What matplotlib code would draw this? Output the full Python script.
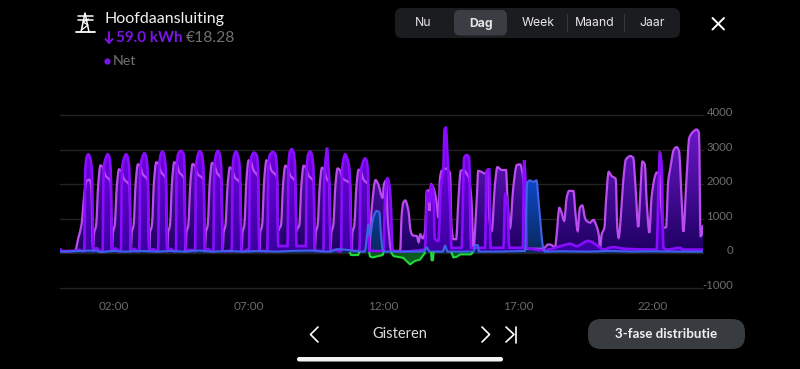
import numpy as np
from matplotlib import pyplot as plt
from matplotlib.colors import LinearSegmentedColormap
from matplotlib.patches import FancyBboxPatch, PathPatch
from matplotlib.path import Path
from matplotlib.transforms import ScaledTranslation

plt.rcParams['font.family'] = ['Lato', 'DejaVu Sans']

tick_hours = [2, 7, 12, 17, 22]
tick_labels = ['02:00', '07:00', '12:00', '17:00', '22:00']
power_ticks = [-1000, 0, 1000, 2000, 3000, 4000]
tabs = ['Nu', 'Dag', 'Week', 'Maand', 'Jaar']

# bright purple phase
dark_hours = [
    0.00, 0.10, 0.50, 0.70, 0.85,
    0.90, 0.94, 0.99, 1.05, 1.11, 1.18, 1.24, 1.35, 1.50,
    1.58, 1.62, 1.71, 1.77, 1.83, 1.88, 1.93, 2.05, 2.20,
    2.26, 2.30, 2.39, 2.45, 2.51, 2.57, 2.63, 2.75, 2.88,
    2.94, 2.98, 3.07, 3.13, 3.19, 3.25, 3.31, 3.45, 3.58,
    3.64, 3.68, 3.74, 3.80, 3.86, 3.92, 3.98, 4.10, 4.24,
    4.30, 4.33, 4.39, 4.48, 4.58, 4.62, 4.66, 4.80, 4.95,
    5.01, 5.05, 5.13, 5.19, 5.26, 5.32, 5.38, 5.50, 5.63,
    5.69, 5.73, 5.80, 5.86, 5.92, 5.98, 6.04, 6.15, 6.31,
    6.37, 6.41, 6.47, 6.53, 6.59, 6.67, 6.74, 6.85, 6.95,
    7.01, 7.05, 7.12, 7.20, 7.30, 7.35, 7.40, 7.55, 7.63,
    7.69, 7.73, 7.79, 7.90, 8.00, 8.05, 8.10, 8.14, 8.41,
    8.44, 8.48, 8.53, 8.60, 8.66, 8.72, 8.78, 8.82, 9.09,
    9.12, 9.16, 9.21, 9.28, 9.34, 9.40, 9.46, 9.60, 9.71,
    9.77, 9.81, 9.89, 9.91, 9.95, 10.00, 10.04, 10.20, 10.37,
    10.43, 10.47, 10.54, 10.58, 10.64, 10.74, 10.82, 10.95, 11.05,
    11.11, 11.16, 11.26, 11.32, 11.38, 11.43, 11.48,
    12.00, 12.06, 12.15, 12.25, 12.30, 12.34, 12.60, 13.54,
    13.63, 13.71, 13.78, 13.85, 13.91, 14.04, 14.14, 14.22, 14.27, 14.32, 14.37, 14.47, 14.53,
    14.90, 15.00, 15.09, 15.18, 15.25, 15.77, 15.83, 15.93, 15.98,
    16.45, 16.52, 16.60, 16.67, 17.17, 17.22, 17.28, 17.32,
    17.93, 18.18, 18.80, 18.92, 19.17, 19.54, 19.60, 20.04, 20.16, 20.50, 21.00, 22.14,
    22.21, 22.26, 22.33, 22.39, 22.51, 23.00, 23.13, 23.86,
]
dark_watts = [
    110, 50, 60, 90, 50,
    55, 2430, 2780, 2860, 2780, 2430, 60, 140, 60,
    55, 2430, 2780, 2860, 2780, 2430, 60, 130, 50,
    55, 2430, 2780, 2860, 2780, 2430, 60, 120, 50,
    55, 2450, 2810, 2890, 2810, 2450, 60, 110, 60,
    55, 2500, 2860, 2940, 2860, 2500, 60, 120, 50,
    55, 2520, 2880, 2960, 2880, 2520, 60, 90, 70,
    55, 2510, 2870, 2950, 2870, 2510, 60, 120, 50,
    55, 2520, 2880, 2960, 2880, 2520, 60, 50, 60,
    55, 2500, 2860, 2940, 2860, 2500, 60, 50, 90,
    55, 2470, 2830, 2910, 2830, 2470, 60, 60, 50,
    55, 2490, 2850, 2930, 2850, 2490, 200, 200, 200,
    200, 2560, 2930, 3010, 2930, 2560, 200, 200, 200,
    200, 2500, 2860, 2940, 2860, 2500, 60, 60, 50,
    55, 2200, 2950, 3050, 2600, 2000, 60, 90, 50,
    55, 2430, 2780, 2860, 2780, 2430, 60, 60, 50,
    55, 2330, 2670, 2740, 2670, 2330, 60,
    60, 1500, 2165, 1800, 900, 80, 40, 100,
    1750, 1500, 1970, 1800, 400, 350, 2000, 2380, 3580, 3630, 2950, 1500, 150,
    150, 2770, 2840, 2770, 150, 150, 2380, 2425, 150,
    150, 1700, 1500, 150, 150, 2690, 2000, 150,
    80, 110, 250, 270, 200, 340, 350, 160, 100, 170, 120, 100,
    1900, 2910, 2480, 150, 100, 150, 100, 100,
]

# lighter purple phase
light_hours = [
    0.00, 0.56, 0.68, 0.80, 0.90, 0.99, 1.09, 1.16, 1.22,
    1.27, 1.34, 1.42, 1.50, 1.58, 1.68, 1.88, 1.93,
    1.96, 2.03, 2.11, 2.19, 2.27, 2.37, 2.58, 2.63,
    2.66, 2.73, 2.81, 2.89, 2.97, 3.07, 3.26, 3.31,
    3.34, 3.41, 3.49, 3.57, 3.65, 3.75, 3.93, 3.98,
    4.01, 4.08, 4.16, 4.24, 4.32, 4.42, 4.61, 4.66,
    4.69, 4.76, 4.84, 4.92, 5.00, 5.10, 5.33, 5.38,
    5.41, 5.48, 5.56, 5.64, 5.72, 5.82, 5.99, 6.04,
    6.07, 6.14, 6.22, 6.30, 6.38, 6.48, 6.69, 6.74,
    6.77, 6.84, 6.92, 7.00, 7.08, 7.18, 7.35, 7.40,
    7.43, 7.50, 7.58, 7.66, 7.74, 7.84, 8.05, 8.10,
    8.13, 8.20, 8.28, 8.36, 8.44, 8.54, 8.73, 8.78,
    8.81, 8.88, 8.96, 9.04, 9.12, 9.22, 9.41, 9.46,
    9.49, 9.56, 9.64, 9.72, 9.80, 9.88, 9.99, 10.04,
    10.07, 10.14, 10.22, 10.30, 10.38, 10.48, 10.77, 10.82,
    10.85, 10.92, 11.00, 11.08, 11.16, 11.26, 11.43, 11.48,
    11.50, 11.56, 11.71, 11.81, 11.97, 12.02, 12.10, 12.16, 12.30, 12.62,
    12.68, 12.74, 12.81, 12.93, 13.01, 13.09, 13.24, 13.31, 13.37, 13.46, 13.54,
    13.61, 13.67, 13.71, 13.77, 13.85, 13.97, 14.04,
    14.10, 14.16, 14.32, 14.47, 14.53, 14.60, 14.70, 14.78, 14.87, 14.97, 15.09, 15.18, 15.27, 15.34,
    15.46, 15.52, 15.64, 15.77, 15.89, 15.93, 16.02, 16.14, 16.23, 16.39, 16.55, 16.61, 16.70,
    16.82, 16.95, 17.07, 17.17, 17.22, 17.28, 17.32,
    17.93, 17.99, 18.12, 18.24, 18.37, 18.43, 18.53, 18.61, 18.71, 18.80, 18.89, 19.05, 19.13, 19.21,
    19.29, 19.38, 19.48, 19.54, 19.67, 19.79, 19.91, 19.99, 20.04, 20.10, 20.20, 20.26, 20.36, 20.47,
    20.62, 20.68, 20.73, 20.80, 20.90, 21.00, 21.17, 21.27, 21.35, 21.46, 21.52, 21.61, 21.70, 21.77,
    21.87, 21.95, 22.08, 22.14, 22.24, 22.30, 22.39, 22.49, 22.57, 22.63, 22.78, 22.88, 22.97, 23.07,
    23.13, 23.25, 23.35, 23.50, 23.62, 23.71, 23.77, 23.82, 23.86,
]
light_watts = [
    60, 60, 440, 830, 1700, 2090, 2125, 1940, 150,
    590, 800, 2000, 2540, 2500, 2260, 2050, 60,
    590, 800, 1950, 2425, 2385, 2150, 1950, 60,
    590, 800, 2050, 2570, 2530, 2290, 2100, 60,
    590, 800, 2100, 2630, 2590, 2350, 2150, 60,
    590, 800, 2100, 2630, 2590, 2350, 2150, 60,
    590, 800, 2060, 2580, 2540, 2300, 2120, 60,
    590, 800, 2090, 2610, 2570, 2330, 2140, 60,
    590, 800, 1980, 2480, 2440, 2200, 2020, 60,
    590, 800, 2150, 2685, 2645, 2400, 2200, 60,
    590, 800, 2150, 2685, 2645, 2400, 2200, 640,
    700, 800, 2020, 2530, 2490, 2250, 2070, 640,
    700, 800, 2020, 2530, 2490, 2250, 2070, 60,
    590, 800, 1980, 2470, 2430, 2190, 2020, 60,
    590, 800, 1960, 2450, 2410, 2170, 2000, 60,
    590, 800, 1930, 2415, 2375, 2130, 1980, 60,
    300, 1220, 2115, 1990, 1600, 1990, 2100, 1000, 60, 60,
    1120, 1460, 1525, 1220, 640, 510, 490, 320, 540, 425, 590,
    1800, 1815, 1220, 1990, 1910, 1500, 1020,
    2180, 2380, 2445, 2330, 730, 400, 400, 1500, 2380, 2410, 2300, 2160, 1500, 150,
    1500, 2380, 2350, 2300, 2425, 1020, 640, 1990, 2490, 2405, 2405, 1500, 730,
    1900, 2550, 2570, 2280, 1900, 1000, 125,
    125, 160, 250, 230, 160, 540, 1310, 1170, 930, 1600, 1800, 1800, 1120, 640,
    1310, 1380, 1020, 930, 880, 960, 780, 540, 150, 540, 730, 1500, 2350, 2230,
    2150, 730, 440, 930, 2090, 2715, 2810, 2760, 1990, 750, 1500, 2650, 2570, 1500,
    590, 1600, 2230, 2330, 2330, 1500, 730, 750, 2090, 2380, 3000, 3070, 2950, 1500,
    620, 2180, 3340, 3520, 3580, 3490, 490, 540, 810,
]

# blue phase
blue_hours = [
    0.00, 1.30, 1.50, 2.00, 2.40, 3.00, 3.60, 4.10, 4.60, 5.10, 5.70, 6.20, 6.80, 7.40,
    8.00, 8.60, 9.30, 10.00, 10.30, 11.30,
    11.42, 11.44, 11.50, 11.62, 11.75, 11.85, 11.91, 11.97, 12.10,
    13.50, 13.61, 13.72, 14.20, 14.29, 14.38, 15.34, 15.42, 15.50, 15.55,
    17.25, 17.34, 17.44, 17.56, 17.68, 17.77, 17.93, 17.99,
    18.60, 19.60, 20.50, 21.20, 22.00, 23.00, 23.86,
]
blue_watts = [
    40, 70, 30, 60, 40, 60, 40, 60, 40, 70, 40, 60, 40, 60,
    40, 60, 70, 40, 110, 40,
    700, 840, 500, 1000, 1220, 1180, 540, 110, 40,
    40, 160, 40, 40, 210, 40, 40, 230, 230, 40,
    60, 2040, 2105, 2060, 2105, 1410, 150, 40,
    50, 40, 60, 40, 50, 40, 40,
]

# net export, only where it goes below zero
green_hours = [
    10.76, 10.80, 11.06, 11.10, 11.11,
    11.48, 11.50, 11.60, 11.80, 11.97, 12.00, 12.01,
    12.30, 12.38, 12.74, 12.80, 12.99, 13.17, 13.36, 13.48, 13.54, 13.55,
    13.77, 13.79, 13.84, 13.86, 13.87,
    14.53, 14.60, 14.72, 14.85, 15.25, 15.30,
]
green_watts = [
    0, -60, -60, 0, np.nan,
    0, -100, -130, -90, -60, 0, np.nan,
    0, -90, -140, -190, -330, -230, -190, -60, 0, np.nan,
    0, -210, -210, 0, np.nan,
    0, -130, -110, -40, -40, 0,
]


def monotone_curve(hours, watts):
    # same idea as d3 curveMonotoneX, the readings stay the knots
    x = np.asarray(hours, dtype=float)
    y = np.asarray(watts, dtype=float)
    dx = np.diff(x)
    slope = np.diff(y) / dx
    tangent = np.zeros(len(x))
    for i in range(1, len(x) - 1):
        if slope[i - 1] * slope[i] > 0:
            tangent[i] = 2 * slope[i - 1] * slope[i] / (slope[i - 1] + slope[i])
    verts = [(x[0], y[0])]
    codes = [Path.MOVETO]
    for i in range(len(x) - 1):
        verts.append((x[i] + dx[i] / 3, y[i] + tangent[i] * dx[i] / 3))
        verts.append((x[i + 1] - dx[i] / 3, y[i + 1] - tangent[i + 1] * dx[i] / 3))
        verts.append((x[i + 1], y[i + 1]))
        codes += [Path.CURVE4, Path.CURVE4, Path.CURVE4]
    return verts, codes


def draw_series(ax, hours, watts, line, lw, bottom, top, high, zorder):
    verts, codes = monotone_curve(hours, watts)
    area = Path(verts + [(hours[-1], 0), (hours[0], 0), (hours[0], 0)],
                codes + [Path.LINETO, Path.LINETO, Path.CLOSEPOLY])
    cmap = LinearSegmentedColormap.from_list('fill', [bottom, top])
    im = ax.imshow(np.linspace(0, 1, 128).reshape(-1, 1), extent=[0, 24, 0, high], origin='lower',
                   aspect='auto', cmap=cmap, zorder=zorder)
    im.set_clip_path(area, transform=ax.transData)
    ax.add_patch(PathPatch(Path(verts, codes), fc='none', ec=line, lw=lw, zorder=zorder + 3))


fig = plt.figure(figsize=(8, 3.69), dpi=100, facecolor='black')
ax = fig.add_axes([60 / 800, 1 - 287.5 / 369, 643 / 800, 172.5 / 369], facecolor='black')

draw_series(ax, light_hours, light_watts, '#bb4cf0', 1.6, '#1e0062', '#6a18c8', 3600, 2)
draw_series(ax, dark_hours, dark_watts, '#8a0cff', 1.9, '#3a00a0', '#7a06ea', 3600, 3)
draw_series(ax, blue_hours, blue_watts, '#3f62e8', 1.5, '#0a2a5c', '#0c48cc', 2200, 4)
ax.fill_between(green_hours, 0, green_watts, color='#0c5a1c', zorder=4)
ax.plot(green_hours, green_watts, color='#1fd83c', lw=1.5, zorder=7)

ax.set_xlim(0, 23.86)
ax.set_ylim(-1000, 4000)
ax.set_xticks(tick_hours, tick_labels)
ax.set_yticks(power_ticks, [str(p) for p in power_ticks])
ax.yaxis.tick_right()
ax.tick_params(axis='y', length=0, pad=21.5, labelsize=8.2, labelcolor='#6f6f6f')
ax.tick_params(axis='x', length=0, pad=9.5, labelsize=8.5, labelcolor='#6a6a6a')
# labels sit a little above their grid line, set after tick_params or it gets reset
shift_up = ScaledTranslation(0, 2.5 / 72, fig.dpi_scale_trans)
for lbl in ax.get_yticklabels():
    lbl.set_ha('right')
    lbl.set_transform(lbl.get_transform() + shift_up)
ax.grid(True, axis='y', color='#232323', lw=1, clip_on=False, zorder=1)
ax.set_axisbelow(True)
for spine in ax.spines.values():
    spine.set_visible(False)

# app chrome, in screen pixels
ui = fig.add_axes([0, 0, 1, 1], facecolor='none')
ui.set_xlim(0, 800)
ui.set_ylim(369, 0)
ui.axis('off')


def rounded(x0, y0, x1, y1, radius, color):
    ui.add_patch(FancyBboxPatch((x0 + radius, y0 + radius), x1 - x0 - 2 * radius, y1 - y0 - 2 * radius,
                                boxstyle=f'round,pad={radius},rounding_size={radius}', fc=color, ec='none'))


def stroke(xs, ys, color='white', lw=1.2):
    ui.plot(xs, ys, color=color, lw=lw, solid_capstyle='round', solid_joinstyle='round')


# pylon icon
stroke([76, 95], [32, 32], lw=1.3)
stroke([78, 93], [15.5, 15.5], lw=1.1)
stroke([78, 93], [19.5, 19.5], lw=1.1)
stroke([81, 85, 89], [32, 13, 32], lw=1.1)
stroke([81.5, 88, 83, 88.5], [30, 25, 22, 19], lw=0.9)

ui.text(104, 19, 'Hoofdaansluiting', color='#f2f2f2', fontsize=11.5, va='center')
stroke([109, 109], [32, 43], color='#7d14e8', lw=1.4)
stroke([105.5, 109, 112.5], [39, 43, 39], color='#7d14e8', lw=1.4)
ui.text(116, 38.5, '59.0 kWh', color='#7d14e8', fontsize=11, fontweight='bold', va='center')
ui.text(186, 38.5, '€18.28', color='#707070', fontsize=11.3, va='center')
ui.scatter([107], [60.5], s=20, color='#7d14e8', lw=0)
ui.text(113, 61, 'Net', color='#707070', fontsize=10.3, va='center')

# tab switch
rounded(395, 8, 680, 38, 7, '#1b1c1f')
rounded(454, 10, 507, 35.5, 6, '#3a3d44')
for sep in [566.5, 624]:
    stroke([sep, sep], [14, 31], color='#36383c', lw=0.8)
for name, cx in zip(tabs, [423, 481, 538, 595, 652]):
    ui.text(cx, 23.5, name, color='#e6e6e6', fontsize=8.8, family=['Inter', 'DejaVu Sans'],
            fontweight='bold' if name == 'Dag' else 'normal', ha='center', va='center')

# close icon
stroke([712.5, 724], [18, 29.5], lw=1.4)
stroke([724, 712.5], [18, 29.5], lw=1.4)

# bottom navigation
stroke([318, 310.5, 318], [327, 334.5, 342])
stroke([482, 489.5, 482], [327, 334.5, 342])
stroke([506, 514, 506], [327, 334.5, 342])
stroke([516, 516], [326.5, 342.5], lw=1.2)
ui.text(400, 334.5, 'Gisteren', color='#dddddd', fontsize=10.5, ha='center', va='center')
rounded(588, 319, 745, 349, 13, '#383b40')
ui.text(666.5, 334, '3-fase distributie', color='#f0f0f0', fontsize=9.6, fontweight='bold', ha='center', va='center')
rounded(297, 357, 503, 361.5, 2.2, '#f4f4f4')

fig.savefig('out.png', dpi=100, facecolor='black')
